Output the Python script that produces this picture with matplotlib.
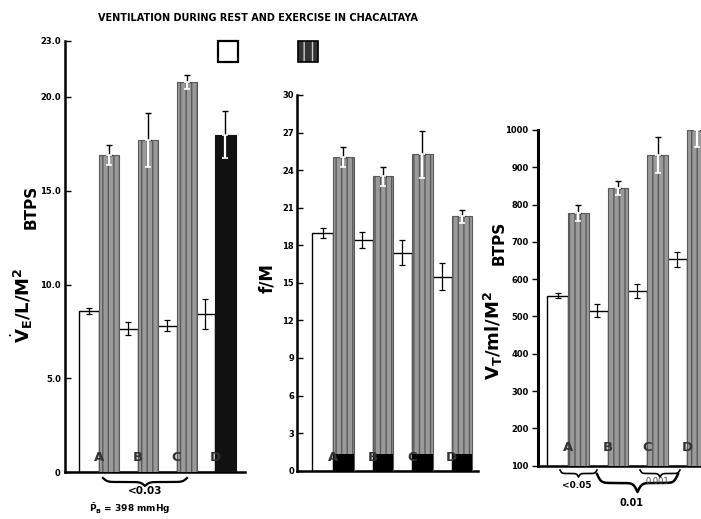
import numpy as np
import matplotlib
matplotlib.use('Agg')
import matplotlib.pyplot as plt
from matplotlib.lines import Line2D
from matplotlib.patches import Rectangle

W, H = 701, 519

groups = ['A', 'B', 'C', 'D']

# Panel 1: V_E / L / M^2 (BTPS)
ve_rest = [8.6, 7.65, 7.8, 8.45]
ve_rest_err = [0.15, 0.35, 0.3, 0.8]
ve_ex = [16.9, 17.7, 20.8, 18.0]
ve_ex_err = [0.55, 1.45, 0.4, 1.25]
ve_ticks = [0, 5, 10, 15, 20, 23]
ve_ticklabels = ['0', '5.0', '10.0', '15.0', '20.0', '23.0']

# Panel 2: f / M
f_rest = [19.0, 18.4, 17.4, 15.5]
f_rest_err = [0.4, 0.65, 1.0, 1.05]
f_ex = [25.05, 23.5, 25.25, 20.3]
f_ex_err = [0.8, 0.75, 1.85, 0.55]
f_ticks = list(range(0, 31, 3))
f_ticklabels = [str(t) for t in f_ticks]

# Panel 3: V_T / ml / M^2 (BTPS)
vt_rest = [556, 516, 568, 653]
vt_rest_err = [6, 18, 18, 19]
vt_ex = [778, 845, 933, 1000]
vt_ex_err = [21, 19, 47, 45]
vt_ticks = list(range(100, 1001, 100))
vt_ticklabels = [str(t) for t in vt_ticks]

TICKFONT = dict(family=['Liberation Sans Narrow', 'DejaVu Sans'], weight='bold', size=6)
HATCH_FC = '#9a9a9a'
HATCH_EC = '#5a5a5a'

fig = plt.figure(figsize=(W / 100, H / 100), dpi=100)


def px_axes(x0, y0, x1, y1):
    return fig.add_axes([x0 / W, 1 - y1 / H, (x1 - x0) / W, (y1 - y0) / H])


def fxy(x, y):
    return x / W, 1 - y / H


def draw_panel(ax, rest, rest_err, ex, ex_err, ex_colors, ylim, xlim,
               ticks, ticklabels, tickdir, label_y, band=None, pad=3):
    x = np.arange(len(groups))
    wd = 0.52
    ax.set_xlim(*xlim)
    ax.set_ylim(*ylim)
    ax.bar(x - wd / 2, rest, width=wd, facecolor='white', edgecolor='black',
           linewidth=1.0, zorder=2)
    for xi, v, c in zip(x, ex, ex_colors):
        if c == 'black':
            ax.bar(xi + wd / 2, v, width=wd, facecolor='#111111',
                   edgecolor='#111111', linewidth=0.8, zorder=3)
        else:
            ax.bar(xi + wd / 2, v, width=wd, facecolor=HATCH_FC,
                   edgecolor=HATCH_EC, hatch='|||', linewidth=0.8, zorder=3)
    if band is not None:
        ax.bar(x + wd / 2, [band] * len(x), width=wd, bottom=ylim[0],
               color='black', zorder=4)
    z = np.zeros(len(x))
    ax.errorbar(x - wd / 2, rest, yerr=rest_err, fmt='none', ecolor='black',
                elinewidth=0.9, capsize=2.5, capthick=0.9, zorder=5)
    ax.errorbar(x + wd / 2, ex, yerr=[z, ex_err], fmt='none', ecolor='black',
                elinewidth=1.0, capsize=2.5, capthick=1.0, zorder=5)
    ax.errorbar(x + wd / 2, ex, yerr=[ex_err, z], fmt='none', ecolor='white',
                elinewidth=1.6, capsize=2.5, capthick=1.2, zorder=5)
    for xi, g in zip(x, groups):
        ax.text(xi, label_y, g, ha='center', va='center', fontsize=9.5,
                fontweight='bold', color='#333333', zorder=6)
    for s in ['top', 'right']:
        ax.spines[s].set_visible(False)
    ax.spines['left'].set_linewidth(1.8)
    ax.spines['bottom'].set_linewidth(1.8)
    ax.set_yticks(ticks)
    ax.set_yticklabels(ticklabels, **TICKFONT)
    ax.set_xticks([])
    ax.tick_params(axis='y', direction=tickdir, length=4, width=1.0, pad=pad)
    ax.set_facecolor('none')


# Panel 1
ax1 = px_axes(65, 472 - 23 * 18.75, 245, 472)
draw_panel(ax1, ve_rest, ve_rest_err, ve_ex, ve_ex_err,
           [HATCH_FC, HATCH_FC, HATCH_FC, 'black'],
           (0, 23), ((65 - 99) / 38.8, (245 - 99) / 38.8),
           ve_ticks, ve_ticklabels, 'in', 0.75)

# Panel 2
ax2 = px_axes(296.7, 95, 478, 470.7)
draw_panel(ax2, f_rest, f_rest_err, f_ex, f_ex_err,
           [HATCH_FC] * 4,
           (0, 30), ((296.7 - 333) / 39.6, (478 - 333) / 39.6),
           f_ticks, f_ticklabels, 'in', 1.05, band=1.35, pad=2)

# Panel 3
ax3 = px_axes(538.3, 130, 701, 465.7)
draw_panel(ax3, vt_rest, vt_rest_err, vt_ex, vt_ex_err,
           [HATCH_FC] * 4,
           (100, 1000), ((538.3 - 568) / 39.7, (701 - 568) / 39.7),
           vt_ticks, vt_ticklabels, 'out', 150)
ax3.spines['left'].set_linewidth(2.2)

# Title and legend keys
fig.text(*fxy(258, 18), 'VENTILATION DURING REST AND EXERCISE IN CHACALTAYA',
         ha='center', va='center', fontsize=7, fontweight='bold')
x0, y0 = fxy(218, 62)
fig.patches.append(Rectangle((x0, y0), 20 / W, 21 / H, transform=fig.transFigure,
                             facecolor='white', edgecolor='black', linewidth=1.6))
x0, y0 = fxy(298, 62)
fig.patches.append(Rectangle((x0, y0), 20 / W, 21 / H, transform=fig.transFigure,
                             facecolor='#333333', edgecolor='#cccccc', hatch='||',
                             linewidth=0))
fig.patches.append(Rectangle((x0, y0), 20 / W, 21 / H, transform=fig.transFigure,
                             facecolor='none', edgecolor='black', linewidth=1.2))

# Axis labels
fig.text(*fxy(22, 305), r'$\dot{\mathbf{V}}_{\mathbf{E}}$/L/M$^{\mathbf{2}}$', rotation=90,
         ha='center', va='center', fontsize=13, fontweight='bold')
fig.text(*fxy(31, 207), 'BTPS', rotation=90, ha='center', va='center',
         fontsize=11, fontweight='bold')
fig.text(*fxy(267, 278), 'f/M', rotation=90, ha='center', va='center',
         fontsize=12, fontweight='bold')
fig.text(*fxy(493, 335), r'V$_{\mathbf{T}}$/ml/M$^{\mathbf{2}}$', rotation=90,
         ha='center', va='center', fontsize=13, fontweight='bold')
fig.text(*fxy(499, 243), 'BTPS', rotation=90, ha='center', va='center',
         fontsize=11, fontweight='bold')


# Braces
def brace(xa, xb, ytop, h, lw=1.6):
    t = np.linspace(0, 0.5, 101)
    beta = 40.0
    half = 1 / (1 + np.exp(-beta * (t - t[0]))) + 1 / (1 + np.exp(-beta * (t - t[-1])))
    half = half - half[0]
    half = half / half[-1]
    yy = np.concatenate([half, half[-2::-1]])
    tt = np.linspace(0, 1, len(yy))
    xs = xa + (xb - xa) * tt
    ys = ytop + h * yy
    fig.add_artist(Line2D(xs / W, 1 - ys / H, transform=fig.transFigure,
                          color='black', linewidth=lw))


brace(103, 187, 478, 8)
fig.text(*fxy(145, 491), '<0.03', ha='center', va='center', fontsize=7.5, fontweight='bold')
fig.text(*fxy(130, 509), r'$\bar{\mathbf{P}}_{\mathbf{B}}$ = 398 mmHg', ha='center',
         va='center', fontsize=6.5, fontweight='bold')

brace(560, 597, 470, 7, lw=1.2)
fig.text(*fxy(577, 486), '<0.05', ha='center', va='center', fontsize=6.5, fontweight='bold')
brace(640, 680, 470, 7, lw=1.2)
fig.text(*fxy(657, 482), '0.001', ha='center', va='center', fontsize=6, color='#444444')
brace(597, 678, 474, 18, lw=1.8)
fig.text(*fxy(631, 503), '0.01', ha='center', va='center', fontsize=7, fontweight='bold')

fig.savefig('out.png', dpi=100)
